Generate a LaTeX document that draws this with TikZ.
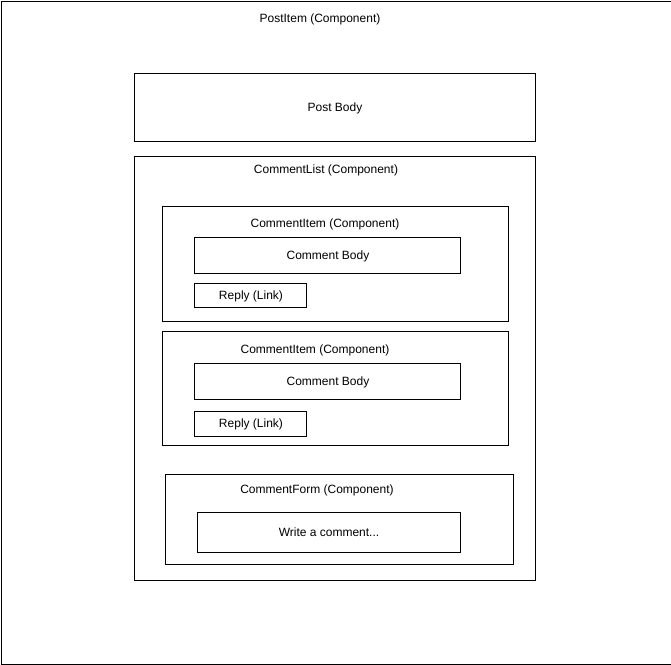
\documentclass[tikz,border=0pt]{standalone}
\usepackage{fontspec}
\setmainfont{Liberation Sans}
\usetikzlibrary{positioning}

\begin{document}
\begin{tikzpicture}[x=1pt, y=-1pt, font=\fontsize{12}{14}\selectfont]
	\tikzstyle{box}=[draw=black, line width=1pt, inner sep=0pt, anchor=north west]
	\tikzstyle{caption}=[inner sep=0pt]
	\useasboundingbox (0,0) rectangle (671,664);
	\node[box, minimum width=670pt, minimum height=663pt] (post) at (0.5,0.5) {};
	\node[caption] (postlbl) at (320,19) {PostItem (Component)};
	\node[box, minimum width=401pt, minimum height=68pt] (body) at (134,73) {};
	\node[caption] (bodylbl) at (335,108) {Post Body};
	% comment list
	\node[box, minimum width=401pt, minimum height=424pt] (list) at (134,156) {};
	\node[caption] (listlbl) at (326,170) {CommentList (Component)};
	\node[box, minimum width=346pt, minimum height=115pt] (itemA) at (162,206) {};
	\node[caption] (itemAlbl) at (325,224) {CommentItem (Component)};
	\node[box, minimum width=266pt, minimum height=36pt] (cbodyA) at (194,237) {};
	\node[caption] (cbodyAlbl) at (328,256) {Comment Body};
	\node[box, minimum width=112pt, minimum height=24pt] (replyA) at (194,283) {};
	\node[caption] (replyAlbl) at (251,296) {Reply (Link)};
	\node[box, minimum width=346pt, minimum height=114pt] (itemB) at (162,331) {};
	\node[caption] (itemBlbl) at (315,350) {CommentItem (Component)};
	\node[box, minimum width=266pt, minimum height=36pt] (cbodyB) at (194,363) {};
	\node[caption] (cbodyBlbl) at (328,382) {Comment Body};
	\node[box, minimum width=112pt, minimum height=25pt] (replyB) at (194,411) {};
	\node[caption] (replyBlbl) at (251,424) {Reply (Link)};
	% comment form
	\node[box, minimum width=348pt, minimum height=90pt] (form) at (165,474) {};
	\node[caption] (formlbl) at (317,490) {CommentForm (Component)};
	\node[box, minimum width=263pt, minimum height=40pt] (input) at (197,512) {};
	\node[caption] (inputlbl) at (329,532) {Write a comment...};
\end{tikzpicture}
\end{document}
